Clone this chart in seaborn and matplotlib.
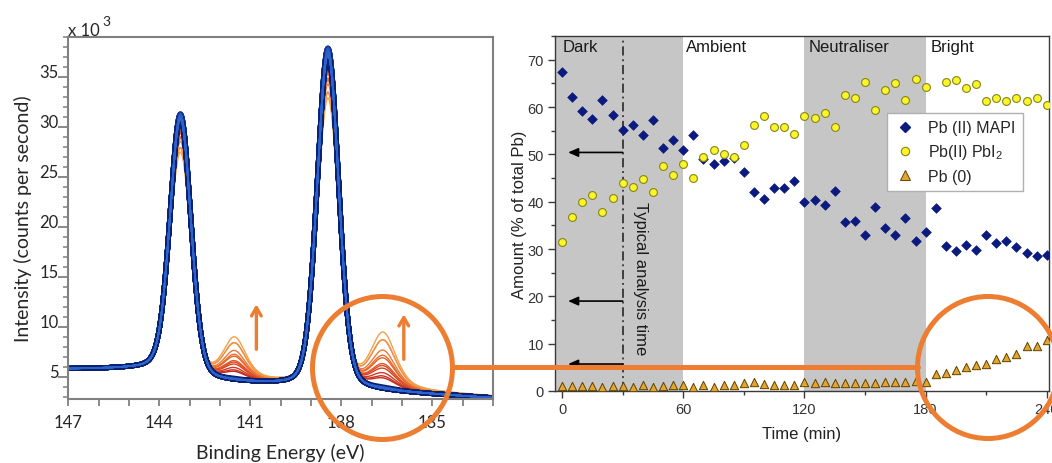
import numpy as np
import pandas as pd
import matplotlib
matplotlib.use("Agg")
import matplotlib.pyplot as plt
import seaborn as sns
from matplotlib.patches import Ellipse
from matplotlib.lines import Line2D
from matplotlib.ticker import MultipleLocator

# ------------------------------------------------------------------ data
# right panel: time series (every 5 min)
time_min = list(range(0, 245, 5))
mapi = [67.4, 62.1, 59.1, 57.5, 61.4, 58.3, 55.2, 56.1, 54.0, 57.2,
        51.4, 53.1, 50.9, 54.0, 49.0, 48.0, 48.6, 49.3, 46.3, 42.0,
        40.5, 42.9, 42.9, 44.3, 39.9, 40.4, 39.3, 42.2, 35.6, 36.0,
        32.9, 38.9, 34.4, 33.0, 36.6, 31.7, 33.6, 38.7, 30.6, 29.6,
        30.9, 29.8, 33.0, 31.2, 31.6, 30.4, 29.1, 28.6, 28.8]
pbi2 = [31.4, 36.8, 39.9, 41.5, 37.9, 40.7, 43.9, 43.1, 44.7, 42.0,
        47.5, 45.6, 47.9, 45.0, 49.4, 50.9, 50.1, 49.4, 51.9, 56.3,
        58.0, 55.8, 55.7, 54.2, 58.1, 57.6, 58.8, 55.7, 62.5, 62.0,
        65.3, 59.4, 63.6, 65.0, 61.5, 65.9, 64.2, np.nan, 65.3, 65.8,
        64.0, 64.9, 61.2, 61.9, 61.2, 61.8, 61.3, 61.8, 60.4]
pb0 = [1.1, 1.1, 1.1, 1.1, 0.8, 1.0, 1.0, 0.8, 1.3, 0.8,
       1.1, 1.3, 1.3, 0.9, 1.2, 0.9, 1.2, 1.3, 1.6, 1.8,
       1.4, 1.2, 1.3, 1.3, 1.8, 1.7, 1.8, 1.7, 1.7, 1.7,
       1.7, 1.7, 1.8, 1.9, 1.8, 2.2, 1.9, 3.6, 3.9, 4.4,
       5.1, 5.5, 5.8, 6.7, 7.1, 7.9, 9.5, 9.5, 10.7]

region_names = ["Dark", "Ambient", "Neutraliser", "Bright"]
region_label_x = [0.3, 61.2, 122.3, 182.5]
shaded_spans = [(-3.5, 60), (120, 180)]
arrow_levels = [50.4, 19.0, 5.7]

# left panel: Pb 4f spectra, read-off peak parameters (x10^3 counts/s)
main_centers = [143.30, 138.44]      # Pb(II) 4f5/2, 4f7/2
main_heights = [26.0, 34.0]
main_fwhm = [0.82, 0.84]
pb0_centers = [141.52, 136.62]       # Pb(0) 4f5/2, 4f7/2
pb0_height_per_pct = [0.47, 0.63]    # shoulder height per % Pb(0) above floor
pb0_fwhm = [0.90, 1.00]
pb0_floor = 2.0
bg_at_133 = 2.9
bg_slope = 0.18
bg_step = 1.05

W, H = 1052, 464
ORANGE = "#ED7D31"
NAVY = "#0b1a7e"

# ------------------------------------------------------------------ style
sns.set_style("ticks")
plt.rcParams["font.family"] = ["Liberation Sans", "DejaVu Sans"]
plt.rcParams["mathtext.fontset"] = "custom"
plt.rcParams["mathtext.rm"] = "Liberation Sans"
plt.rcParams["mathtext.it"] = "Liberation Sans:italic"
plt.rcParams["mathtext.bf"] = "Liberation Sans:bold"

fig = plt.figure(figsize=(W / 100, H / 100), dpi=100)
ax1 = fig.add_axes([68.3 / W, 1 - 400 / H, 424.7 / W, 361.7 / H])
ax2 = fig.add_axes([555 / W, 1 - 392 / H, 494 / W, 355 / H])


# ------------------------------------------------------------------ spectra
def pvoigt(E, c, fwhm, eta):
    s = fwhm / 2.3548
    g = np.exp(-(E - c) ** 2 / (2 * s * s))
    l = 1.0 / (1.0 + ((E - c) / (fwhm / 2)) ** 2)
    return (1 - eta) * g + eta * l


E = np.linspace(147.0, 133.0, 1401)
bg = (bg_at_133 + bg_slope * (np.minimum(E, main_centers[0]) - 133.0)
      + bg_step / (1 + np.exp(-(E - main_centers[0]) / 0.25)))
pmin = min(pb0)
frames = []
for t, p in zip(time_min, pb0):
    exc = max(p - pb0_floor, 0.0)
    scale = 1 - 0.016 * (p - pmin)
    I = bg + 0.02 * exc
    for c, h, w in zip(main_centers, main_heights, main_fwhm):
        I = I + scale * h * pvoigt(E, c, w, 0.2)
    for c, k, w in zip(pb0_centers, pb0_height_per_pct, pb0_fwhm):
        I = I + exc * k * pvoigt(E, c, w, 0.5)
    frames.append(pd.DataFrame({"E": E, "I": I, "t": t}))
spec = pd.concat(frames, ignore_index=True)

red_t = [t for t in time_min if t > 180]
blue_t = [t for t in time_min if t <= 180]
red_cols = sns.blend_palette(["#c3261b", "#e35a25", "#f5a04a"], len(red_t))
blue_cols = sns.blend_palette(["#10287e", "#1b3c9a", "#0c2070"], len(blue_t))
light_cols = sns.blend_palette(["#2352b8", "#2d64cc"], len(blue_t))

sns.lineplot(data=spec[spec.t > 180], x="E", y="I", hue="t",
             palette=dict(zip(red_t, red_cols)), estimator=None, sort=False,
             legend=False, lw=1.0, ax=ax1)
sns.lineplot(data=spec[spec.t <= 180], x="E", y="I", hue="t",
             palette=dict(zip(blue_t, blue_cols)), estimator=None, sort=False,
             legend=False, lw=3.6, ax=ax1)
sns.lineplot(data=spec[spec.t <= 180], x="E", y="I", hue="t",
             palette=dict(zip(blue_t, light_cols)), estimator=None, sort=False,
             legend=False, lw=1.1, ax=ax1)

LEFT_FONT = ["Lato", "DejaVu Sans"]
ax1.set_xlim(147, 133)
ax1.set_ylim(2.83, 39.0)
ax1.set_xticks([147, 144, 141, 138, 135])
ax1.xaxis.set_minor_locator(MultipleLocator(1))
ax1.set_yticks([5, 10, 15, 20, 25, 30, 35])
ax1.yaxis.set_minor_locator(MultipleLocator(1))
for sp in ax1.spines.values():
    sp.set_color("#808080")
    sp.set_linewidth(1.5)
ax1.tick_params(axis="x", which="both", direction="out", length=5,
                width=1.3, color="#808080", pad=6, labelsize=12,
                labelcolor="#262626")
ax1.tick_params(axis="y", which="major", direction="out", length=7,
                width=1.3, color="#808080", pad=0, labelsize=12,
                labelcolor="#262626")
ax1.tick_params(axis="y", which="minor", direction="out", length=3.5,
                width=1.1, color="#808080")
for lab in ax1.get_xticklabels() + ax1.get_yticklabels():
    lab.set_family(LEFT_FONT)
plt.setp(ax1.get_yticklabels(), va="baseline")
ax1.set_xlabel("Binding Energy (eV)", fontsize=14, family=LEFT_FONT,
               color="#262626")
ax1.set_ylabel("Intensity (counts per second)", fontsize=14,
               family=LEFT_FONT, color="#262626")
ax1.xaxis.set_label_coords(0.5, -0.121)
ax1.yaxis.set_label_coords(-0.086, 0.5)
ax1.text(0.0, 1.0 + 2.3 / 361.7, "x 10", transform=ax1.transAxes,
         ha="left", va="baseline", fontsize=12, family=LEFT_FONT,
         color="#262626")
ax1.text(0.0805, 1.0 + 12.8 / 361.7, "3", transform=ax1.transAxes,
         ha="left", va="baseline", fontsize=10, family=LEFT_FONT,
         color="#262626")

arrow_kw = dict(arrowstyle="->, head_length=0.6, head_width=0.35",
                color=ORANGE, lw=2.4, shrinkA=0, shrinkB=0,
                mutation_scale=10)
ax1.annotate("", xy=(140.80, 12.3), xytext=(140.80, 7.8), arrowprops=arrow_kw)
ax1.annotate("", xy=(135.94, 11.3), xytext=(135.94, 6.8), arrowprops=arrow_kw)

# ------------------------------------------------------------------ right panel
for a, b in shaded_spans:
    ax2.axvspan(a, b, color="#c6c6c6", lw=0, zorder=0)

sns.scatterplot(x=time_min, y=mapi, ax=ax2, marker="D", s=24, color=NAVY,
                edgecolor=NAVY, linewidth=0.5, zorder=3, legend=False)
sns.scatterplot(x=time_min, y=pbi2, ax=ax2, marker="o", s=32,
                color="#fbf52a", edgecolor="#85851a", linewidth=0.8,
                zorder=4, legend=False)
sns.scatterplot(x=time_min, y=pb0, ax=ax2, marker="^", s=36,
                color="#e3a532", edgecolor="#5f4300", linewidth=0.7,
                zorder=5, legend=False)

ax2.axvline(30, color="#1a1a1a", lw=1.1, ls=(0, (6, 2.5, 1.2, 2.5)),
            zorder=2)
for yv in arrow_levels:
    ax2.annotate("", xy=(3.0, yv), xytext=(30, yv),
                 arrowprops=dict(arrowstyle="-|>, head_length=0.5, head_width=0.22",
                                 color="black", lw=1.2, shrinkA=0,
                                 shrinkB=0, mutation_scale=12), zorder=2)
ax2.text(38.6, 40.1, "Typical analysis time", rotation=-90, ha="center",
         va="top", fontsize=12, color="#1a1a1a")
for name, xv in zip(region_names, region_label_x):
    ax2.text(xv, 74.4, name, ha="left", va="top", fontsize=12,
             color="#1a1a1a")

ax2.set_xlim(-3.5, 241.1)
ax2.set_ylim(0, 75)
ax2.set_xticks([0, 60, 120, 180, 240])
ax2.xaxis.set_minor_locator(MultipleLocator(30))
ax2.set_yticks(range(0, 71, 10))
ax2.yaxis.set_minor_locator(MultipleLocator(5))
for sp in ax2.spines.values():
    sp.set_color("#3a3a3a")
    sp.set_linewidth(1.0)
ax2.tick_params(which="major", direction="out", length=5, width=1.0,
                color="#3a3a3a", labelsize=10.5, labelcolor="#333333", pad=3)
ax2.tick_params(which="minor", direction="out", length=3, width=1.0,
                color="#3a3a3a")
ax2.set_xlabel("Time (min)", fontsize=12, color="#222222")
ax2.set_ylabel("Amount (% of total Pb)", fontsize=12, color="#222222")
ax2.xaxis.set_label_coords(0.5, -0.098)
ax2.yaxis.set_label_coords(-0.057, 0.5)

handles = [
    Line2D([], [], ls="none", marker="D", ms=5.2, mfc=NAVY, mec=NAVY),
    Line2D([], [], ls="none", marker="o", ms=6, mfc="#fbf52a", mec="#85851a",
           mew=0.8),
    Line2D([], [], ls="none", marker="^", ms=6.5, mfc="#e3a532",
           mec="#5f4300", mew=0.7),
]
labels = ["Pb (II) MAPI", r"Pb(II) PbI$_2$", "Pb (0)"]
leg = ax2.legend(handles, labels, loc="upper left",
                 bbox_to_anchor=(0.6727, 0.783), fontsize=11.5, frameon=True,
                 fancybox=False, framealpha=1, edgecolor="#b0b0b0",
                 borderpad=0.45, labelspacing=0.45, handletextpad=0.8,
                 handlelength=1.3, borderaxespad=0)
leg.get_frame().set_linewidth(1.0)
leg.set_zorder(6)

# ------------------------------------------------------------------ connectors
fig.add_artist(Ellipse((382.5 / W, 1 - 369 / H), 140 / W, 143 / H,
                       transform=fig.transFigure, fill=False, ec=ORANGE,
                       lw=3.6, zorder=10))
fig.add_artist(Ellipse((988 / W, 1 - 368.5 / H), 141 / W, 142 / H,
                       transform=fig.transFigure, fill=False, ec=ORANGE,
                       lw=3.6, zorder=10))
fig.add_artist(Line2D([452.3 / W, 917.5 / W], [1 - 368.3 / H] * 2,
                      transform=fig.transFigure, color=ORANGE, lw=3.6,
                      zorder=10))

fig.savefig("out.png", dpi=100, facecolor="white")
